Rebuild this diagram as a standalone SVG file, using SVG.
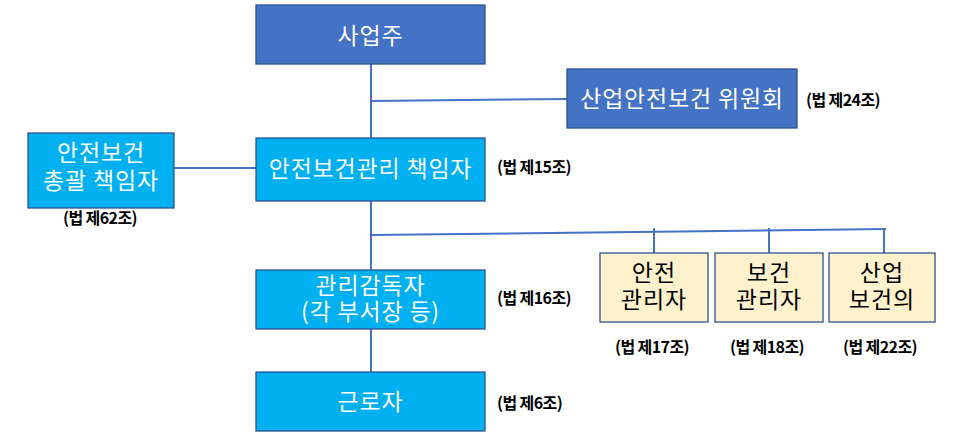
<svg xmlns="http://www.w3.org/2000/svg" width="957" height="442" viewBox="0 0 957 442">
<style>
.dark{fill:#4472C4;stroke:#2F528F;stroke-width:1.3}
.cyan{fill:#00B0F0;stroke:#2F528F;stroke-width:1.3}
.yel{fill:#FFF2CC;stroke:#2F528F;stroke-width:1.3}
.wt{fill:#FFFFFF;font-family:"Noto Sans CJK KR","Noto Sans",sans-serif;font-size:23px;letter-spacing:0.8px;text-anchor:middle}
.bt{fill:#000000;font-family:"Noto Sans CJK KR","Noto Sans",sans-serif;font-size:23px;letter-spacing:1px;text-anchor:middle}
.lb{fill:#000000;font-family:"Noto Sans CJK KR","Noto Sans",sans-serif;font-size:16px;font-weight:bold;letter-spacing:-0.6px}
.ln{stroke:#4472C4;stroke-width:2;fill:none}
</style>
<rect width="957" height="442" fill="#FFFFFF"/>
<g id="connectors">
<line class="ln" x1="371" y1="64" x2="371" y2="138"/>
<line class="ln" x1="371" y1="101" x2="567" y2="99"/>
<line class="ln" x1="174" y1="168" x2="256" y2="168"/>
<line class="ln" x1="371" y1="201" x2="371" y2="270"/>
<line class="ln" x1="371" y1="235" x2="886" y2="229"/>
<line class="ln" x1="654" y1="228" x2="654" y2="253"/>
<line class="ln" x1="769" y1="228" x2="769" y2="253"/>
<line class="ln" x1="884" y1="228" x2="884" y2="253"/>
<line class="ln" x1="371" y1="329" x2="371" y2="372"/>
</g>
<g id="owner">
<rect class="dark" x="256" y="5" width="229" height="59"/>
<text class="wt" x="370.5" y="44">사업주</text>
</g>
<g id="committee">
<rect class="dark" x="567" y="69" width="230" height="59"/>
<text class="wt" x="682" y="107">산업안전보건 위원회</text>
<text class="lb" x="806" y="106">(법 제24조)</text>
</g>
<g id="general-manager">
<rect class="cyan" x="28" y="133" width="146" height="75"/>
<text class="wt" x="101" y="161">안전보건</text>
<text class="wt" x="101" y="189">총괄 책임자</text>
<text class="lb" x="63" y="224">(법 제62조)</text>
</g>
<g id="safety-manager">
<rect class="cyan" x="256" y="138" width="229" height="63"/>
<text class="wt" x="370.5" y="177">안전보건관리 책임자</text>
<text class="lb" x="497" y="173">(법 제15조)</text>
</g>
<g id="supervisor">
<rect class="cyan" x="256" y="270" width="229" height="59"/>
<text class="wt" x="370.5" y="294">관리감독자</text>
<text class="wt" x="370.5" y="320">(각 부서장 등)</text>
<text class="lb" x="497" y="304">(법 제16조)</text>
</g>
<g id="worker">
<rect class="cyan" x="256" y="372" width="229" height="59"/>
<text class="wt" x="370.5" y="410">근로자</text>
<text class="lb" x="497" y="409">(법 제6조)</text>
</g>
<g id="safety-officer">
<rect class="yel" x="600" y="253" width="108" height="69"/>
<text class="bt" x="654" y="281">안전</text>
<text class="bt" x="654" y="308">관리자</text>
<text class="lb" x="615" y="353">(법 제17조)</text>
</g>
<g id="health-officer">
<rect class="yel" x="715" y="253" width="108" height="69"/>
<text class="bt" x="769" y="281">보건</text>
<text class="bt" x="769" y="308">관리자</text>
<text class="lb" x="730" y="353">(법 제18조)</text>
</g>
<g id="physician">
<rect class="yel" x="829" y="253" width="106" height="69"/>
<text class="bt" x="882" y="281">산업</text>
<text class="bt" x="882" y="308">보건의</text>
<text class="lb" x="843" y="353">(법 제22조)</text>
</g>
</svg>
